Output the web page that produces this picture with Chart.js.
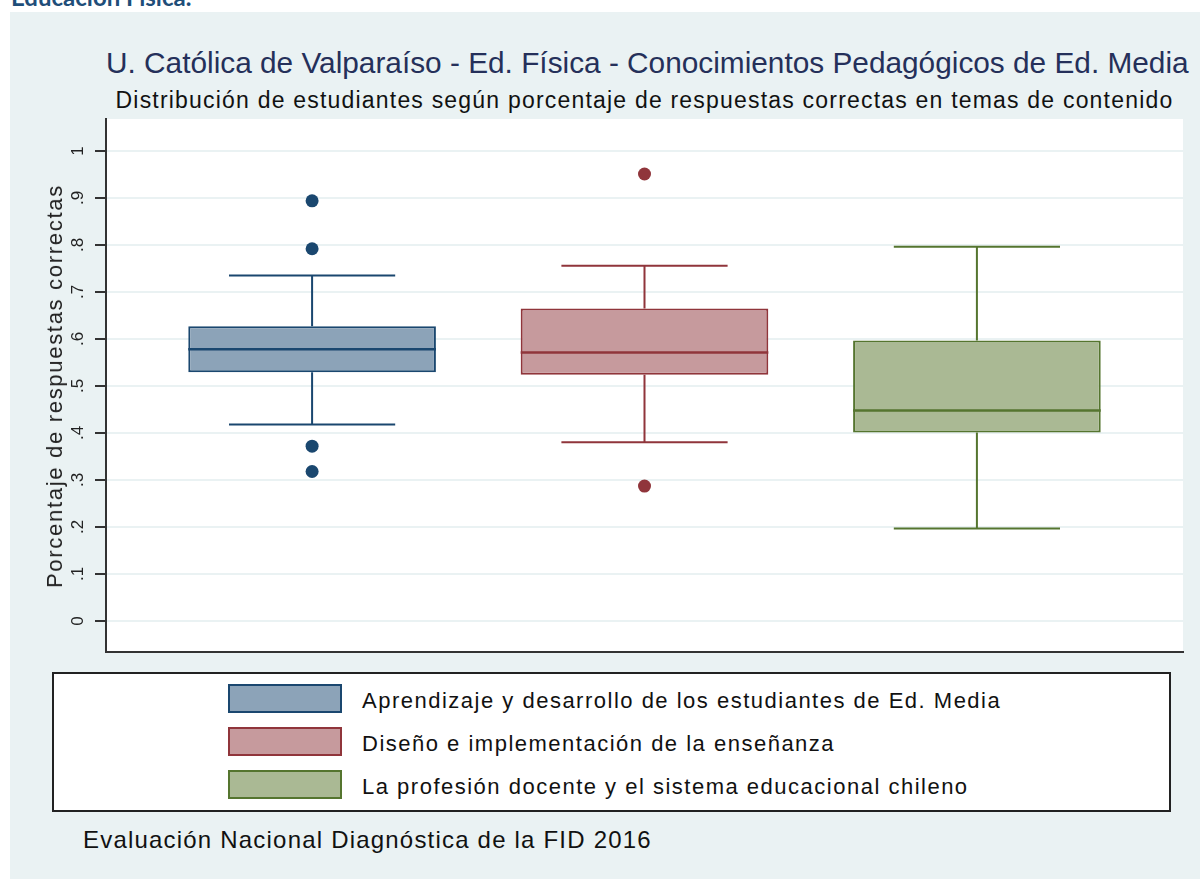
<!DOCTYPE html>
<html>
<head>
<meta charset="utf-8">
<script src="https://cdn.jsdelivr.net/npm/chart.js@4"></script>
<style>
  body { margin: 0; width: 1200px; height: 879px; position: relative; background: #fff; overflow: hidden; font-family: "Liberation Sans", Arial, sans-serif; }
  #bg { position: absolute; left: 10px; top: 12px; width: 1190px; height: 867px; background: #eaf2f3; }
  #top { position: absolute; left: 11px; top: -15px; font: bold 24px Lato, sans-serif; color: #1f4e79; line-height: 24px; white-space: nowrap; }
  #chartWrap { position: absolute; left: 0; top: 0; width: 1200px; height: 665px; }
  .ttl { position: absolute; left: 106px; width: 1077px; text-align: center; white-space: nowrap; }
  #title { top: 46px; font-size: 29.8px; line-height: 34px; color: #25305a; }
  #subtitle { top: 87px; font-size: 23px; line-height: 26px; letter-spacing: 1.2px; color: #111; }
  #ytitle { position: absolute; left: 55px; top: 385.5px; transform: translate(-50%, -50%) rotate(-90deg); font-size: 22px; line-height: 26px; letter-spacing: 1.7px; color: #222; white-space: nowrap; }
  #legend { position: absolute; left: 52px; top: 672px; width: 1115px; height: 136px; border: 2px solid #222; background: #fff; }
  .row { position: absolute; left: 174px; height: 29px; }
  .sw { position: absolute; left: 0; top: 0; width: 110px; height: 25px; border: 2px solid; }
  .lab { position: absolute; left: 134px; top: 2px; line-height: 29px; font-size: 22px; letter-spacing: 1.5px; color: #111; white-space: nowrap; }
  #note { position: absolute; left: 83px; top: 826px; font-size: 24px; line-height: 28px; letter-spacing: 1.2px; color: #111; white-space: nowrap; }
</style>
</head>
<body>
<div id="bg"></div>
<div id="top">Educación Física.</div>
<div id="title" class="ttl">U. Católica de Valparaíso - Ed. Física - Conocimientos Pedagógicos de Ed. Media</div>
<div id="subtitle" class="ttl">Distribución de estudiantes según porcentaje de respuestas correctas en temas de contenido</div>
<div id="chartWrap"><canvas id="box-chart"></canvas></div>
<div id="ytitle">Porcentaje de respuestas correctas</div>
<div id="legend"></div>
<div id="note">Evaluación Nacional Diagnóstica de la FID 2016</div>
<script>
const categories = [
  'Aprendizaje y desarrollo de los estudiantes de Ed. Media',
  'Diseño e implementación de la enseñanza',
  'La profesión docente y el sistema educacional chileno'
];
const lowerWhisker = [0.418, 0.380, 0.197];
const q1 = [0.529, 0.524, 0.401];
const median = [0.578, 0.571, 0.448];
const q3 = [0.627, 0.665, 0.597];
const upperWhisker = [0.735, 0.756, 0.796];
const outliers = [[0.894, 0.792, 0.372, 0.318], [0.951, 0.287], []];
const yTicks = [0, 0.1, 0.2, 0.3, 0.4, 0.5, 0.6, 0.7, 0.8, 0.9, 1];
const yTickLabels = ['0', '.1', '.2', '.3', '.4', '.5', '.6', '.7', '.8', '.9', '1'];

const fills = ['#8ca3b8', '#c69a9d', '#aab994'];
const edges = ['#1a476f', '#90353b', '#55752f'];
const boxHalf = 0.3725;   // medio ancho de la caja, en unidades del eje x
const capHalf = 0.25;

// leyenda en HTML
const legend = document.getElementById('legend');
categories.forEach((c, i) => {
  const row = document.createElement('div');
  row.className = 'row';
  row.style.top = (10 + i * 43) + 'px';
  row.innerHTML = '<div class="sw" style="background:' + fills[i] + ';border-color:' + edges[i] + '"></div><div class="lab"></div>';
  row.querySelector('.lab').textContent = c;
  legend.appendChild(row);
});

const boxParts = {
  id: 'boxParts',
  beforeDraw(chart) {
    const { ctx, chartArea: a } = chart;
    ctx.save();
    ctx.fillStyle = '#fff';
    ctx.fillRect(a.left, a.top, a.right - a.left, a.bottom - a.top);
    ctx.restore();
  },
  afterDatasetsDraw(chart) {
    const { ctx, scales: { x, y } } = chart;
    ctx.save();
    categories.forEach((c, i) => {
      const cx = x.getPixelForValue(i + 1);
      const capL = x.getPixelForValue(i + 1 - capHalf);
      const capR = x.getPixelForValue(i + 1 + capHalf);
      const boxL = x.getPixelForValue(i + 1 - boxHalf);
      const boxR = x.getPixelForValue(i + 1 + boxHalf);
      ctx.strokeStyle = edges[i];
      ctx.lineWidth = 2;
      ctx.beginPath();
      ctx.moveTo(cx, y.getPixelForValue(q3[i]));
      ctx.lineTo(cx, y.getPixelForValue(upperWhisker[i]));
      ctx.moveTo(capL, y.getPixelForValue(upperWhisker[i]));
      ctx.lineTo(capR, y.getPixelForValue(upperWhisker[i]));
      ctx.moveTo(cx, y.getPixelForValue(q1[i]));
      ctx.lineTo(cx, y.getPixelForValue(lowerWhisker[i]));
      ctx.moveTo(capL, y.getPixelForValue(lowerWhisker[i]));
      ctx.lineTo(capR, y.getPixelForValue(lowerWhisker[i]));
      ctx.stroke();
      ctx.lineWidth = 2.5;
      ctx.beginPath();
      ctx.moveTo(boxL, y.getPixelForValue(median[i]));
      ctx.lineTo(boxR, y.getPixelForValue(median[i]));
      ctx.stroke();
    });
    ctx.restore();
  },
  afterDraw(chart) {
    // etiquetas verticales del eje y, estilo Stata
    const { ctx, scales: { y } } = chart;
    ctx.save();
    ctx.font = '17px "Liberation Sans", Arial, sans-serif';
    ctx.fillStyle = '#222';
    ctx.textAlign = 'center';
    ctx.textBaseline = 'middle';
    yTicks.forEach((v, i) => {
      ctx.save();
      ctx.translate(78, y.getPixelForValue(v));
      ctx.rotate(-Math.PI / 2);
      ctx.fillText(yTickLabels[i], 0, 0);
      ctx.restore();
    });
    ctx.restore();
  }
};

const datasets = [{
  type: 'bar',
  data: categories.map((c, i) => ({ x: i + 1, y: [q1[i], q3[i]] })),
  backgroundColor: fills,
  borderColor: edges,
  borderWidth: 2,
  borderSkipped: false,
  categoryPercentage: 1,
  barPercentage: boxHalf * 2
}];
outliers.forEach((list, i) => {
  datasets.push({
    type: 'scatter',
    data: list.map(v => ({ x: i + 1, y: v })),
    pointRadius: 6.5,
    pointBackgroundColor: edges[i],
    pointBorderColor: edges[i],
    pointBorderWidth: 0
  });
});

const ctx = document.getElementById('box-chart').getContext('2d');
new Chart(ctx, {
  type: 'bar',
  data: { datasets: datasets },
  options: {
    responsive: true,
    maintainAspectRatio: false,
    animation: false,
    layout: { padding: { top: 119, right: 17, bottom: 13, left: 0 } },
    plugins: { legend: { display: false }, tooltip: { enabled: false } },
    scales: {
      x: {
        type: 'linear',
        offset: false,
        min: 0.38,
        max: 3.62,
        afterBuildTicks: s => { s.ticks = categories.map((c, i) => ({ value: i + 1 })); },
        ticks: { display: false },
        grid: { display: false },
        border: { display: true, color: '#333', width: 2 },
        afterFit: s => { s.height = 0; }
      },
      y: {
        min: -0.066,
        max: 1.068,
        afterBuildTicks: s => { s.ticks = yTicks.map(v => ({ value: v })); },
        ticks: { display: false },
        grid: { color: '#eaf2f3', lineWidth: 2, tickLength: 11, tickColor: '#333', tickWidth: 2 },
        border: { display: true, color: '#333', width: 2 },
        afterFit: s => { s.width = 106; }
      }
    }
  },
  plugins: [boxParts]
});
</script>
</body>
</html>
